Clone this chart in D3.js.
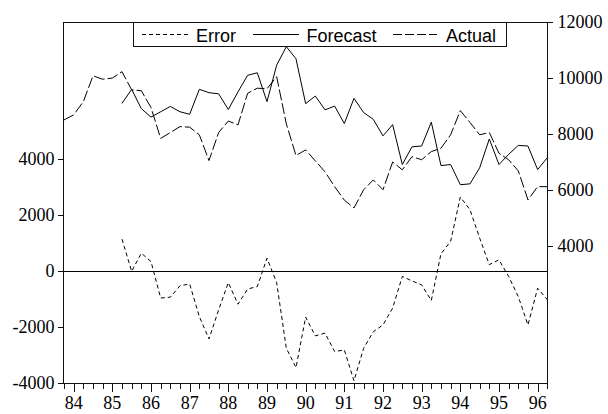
<!DOCTYPE html>
<html>
<head>
<meta charset="utf-8">
<script src="https://cdn.jsdelivr.net/npm/d3@7"></script>
<style>
  html, body { margin: 0; padding: 0; background: #fff; }
  svg { display: block; }
  .serif { font-family: "Liberation Serif", "Times New Roman", Tinos, "DejaVu Serif", serif; font-size: 18px; fill: #000; }
  .sans { font-family: "Liberation Sans", Arial, Helvetica, sans-serif; font-size: 18px; fill: #000; }
</style>
</head>
<body>
<svg id="chart" width="608" height="414"></svg>
<script>
// Quarterly observations, 1983Q4 through 1996Q2
const startYear = 83.75;          // 1983Q4 on a "year + (q-1)/4" scale
const quarterStep = 0.25;

// Actual values (right axis)
const actual = [
  8510, 8690, 9160, 10080, 9960, 10000, 10230, 9580, 9550, 8950,
  7850, 8060, 8270, 8250, 7980, 7060, 8060, 8470, 8330, 9460,
  9640, 9620, 10050, 8370, 7240, 7440, 7050, 6660, 6130, 5650,
  5370, 6020, 6370, 6020, 7010, 6730, 7200, 7090, 7380, 7500,
  7980, 8840, 8420, 7980, 8060, 7320, 7090, 6690, 5660, 6130,
  6130
];

// Forecast values (right axis), available from 1985Q2
const forecast = [
  null, null, null, null, null, null, 9100, 9600, 8910, 8610,
  8800, 8990, 8800, 8710, 9600, 9480, 9440, 8880, 9510, 10100,
  10190, 9160, 10460, 11120, 10690, 9090, 9360, 8870, 9000, 8380,
  9280, 8770, 8530, 7940, 8340, 6920, 7550, 7580, 8430, 6880,
  6920, 6200, 6230, 6800, 7830, 6920, 7280, 7600, 7580, 6740,
  7160
];

// Forecast error (left axis), available from 1985Q2
const errorSeries = [
  null, null, null, null, null, null, 1140, -10, 640, 340,
  -960, -930, -520, -460, -1620, -2420, -1380, -410, -1180, -640,
  -550, 460, -410, -2750, -3440, -1640, -2310, -2210, -2870, -2810,
  -3910, -2750, -2160, -1920, -1320, -190, -350, -490, -1050, 620,
  1060, 2640, 2190, 1180, 230, 400, -190, -910, -1920, -610,
  -1020
];

// Axis ticks and labels
const yearTicks  = [84, 85, 86, 87, 88, 89, 90, 91, 92, 93, 94, 95, 96];
const yearLabels = ["84", "85", "86", "87", "88", "89", "90", "91", "92", "93", "94", "95", "96"];
const leftTicks  = [-4000, -2000, 0, 2000, 4000];
const rightTicks = [4000, 6000, 8000, 10000, 12000];
const legendLabels = ["Error", "Forecast", "Actual"];

const periods = actual.map((_, i) => startYear + i * quarterStep);

const svg = d3.select("#chart");
const plot = { left: 63.5, right: 547.5, top: 22.5, bottom: 383.5 };

const x = d3.scaleLinear()
  .domain([periods[0], periods[periods.length - 1]])
  .range([64, 547.3]);
const yLeft = d3.scaleLinear().domain([-4000, 8880]).range([383.3, 22]);
const yRight = d3.scaleLinear().domain([-880, 12000]).range([383.3, 22]);

// Zero reference line on the left axis
svg.append("line")
  .attr("x1", plot.left).attr("x2", plot.right)
  .attr("y1", Math.round(yLeft(0)) + 0.5).attr("y2", Math.round(yLeft(0)) + 0.5)
  .attr("stroke", "#000").attr("stroke-width", 1)
  .attr("shape-rendering", "crispEdges");

// Series lines
function drawSeries(values, yScale, dash) {
  const line = d3.line()
    .defined(d => d != null)
    .x((d, i) => x(periods[i]))
    .y(d => yScale(d));
  svg.append("path")
    .datum(values)
    .attr("d", line)
    .attr("fill", "none")
    .attr("stroke", "#000")
    .attr("stroke-width", 1)
    .attr("stroke-linejoin", "miter")
    .attr("stroke-dasharray", dash);
}
drawSeries(errorSeries, yLeft, "4,3");
drawSeries(forecast, yRight, null);
drawSeries(actual, yRight, "11,3");

// Frame
svg.append("rect")
  .attr("x", plot.left).attr("y", plot.top)
  .attr("width", plot.right - plot.left).attr("height", plot.bottom - plot.top)
  .attr("fill", "none").attr("stroke", "#111").attr("stroke-width", 1)
  .attr("shape-rendering", "crispEdges");

// Bottom axis: a tick per quarter, longer at each year
svg.append("g")
  .attr("shape-rendering", "crispEdges")
  .selectAll("line").data(periods).join("line")
  .attr("x1", d => Math.round(x(d)) + 0.5).attr("x2", d => Math.round(x(d)) + 0.5)
  .attr("y1", plot.bottom)
  .attr("y2", d => plot.bottom + (Math.abs(d - Math.round(d)) < 1e-6 ? 8 : 5))
  .attr("stroke", "#111");

svg.append("g").selectAll("text").data(yearTicks).join("text")
  .attr("class", "serif")
  .attr("x", d => x(d))
  .attr("y", 408.5)
  .attr("text-anchor", "middle")
  .text((d, i) => yearLabels[i]);

// Left axis
const gl = svg.append("g");
gl.selectAll("line").data(leftTicks).join("line")
  .attr("shape-rendering", "crispEdges")
  .attr("x1", plot.left - 6).attr("x2", plot.left)
  .attr("y1", d => Math.round(yLeft(d)) + 0.5).attr("y2", d => Math.round(yLeft(d)) + 0.5)
  .attr("stroke", "#111");
gl.selectAll("text").data(leftTicks).join("text")
  .attr("class", "serif")
  .attr("x", plot.left - 9)
  .attr("y", d => yLeft(d))
  .attr("dy", "0.33em")
  .attr("text-anchor", "end")
  .text(d => d);

// Right axis
const gr = svg.append("g");
gr.selectAll("line").data(rightTicks).join("line")
  .attr("shape-rendering", "crispEdges")
  .attr("x1", plot.right).attr("x2", plot.right + 5)
  .attr("y1", d => Math.round(yRight(d)) + 0.5).attr("y2", d => Math.round(yRight(d)) + 0.5)
  .attr("stroke", "#111");
gr.selectAll("text").data(rightTicks).join("text")
  .attr("class", "serif")
  .attr("x", plot.right + 10)
  .attr("y", d => yRight(d))
  .attr("dy", "0.33em")
  .attr("text-anchor", "start")
  .text(d => d);

// Legend
const legend = svg.append("g");
legend.append("rect")
  .attr("x", 133.5).attr("y", 22.5).attr("width", 373).attr("height", 24)
  .attr("fill", "#fff").attr("stroke", "#111").attr("stroke-width", 1)
  .attr("shape-rendering", "crispEdges");
const legendItems = [
  { x0: 142, x1: 188, tx: 196, dash: "4,3" },
  { x0: 253, x1: 299, tx: 306.5, dash: null },
  { x0: 393, x1: 437, tx: 446, dash: "9,3" }
];
legendItems.forEach((it, i) => {
  legend.append("line")
    .attr("x1", it.x0).attr("x2", it.x1).attr("y1", 34.5).attr("y2", 34.5)
    .attr("stroke", "#000").attr("stroke-width", 1)
    .attr("stroke-dasharray", it.dash);
  legend.append("text")
    .attr("class", "sans")
    .attr("x", it.tx).attr("y", 41.5)
    .text(legendLabels[i]);
});
</script>
</body>
</html>
